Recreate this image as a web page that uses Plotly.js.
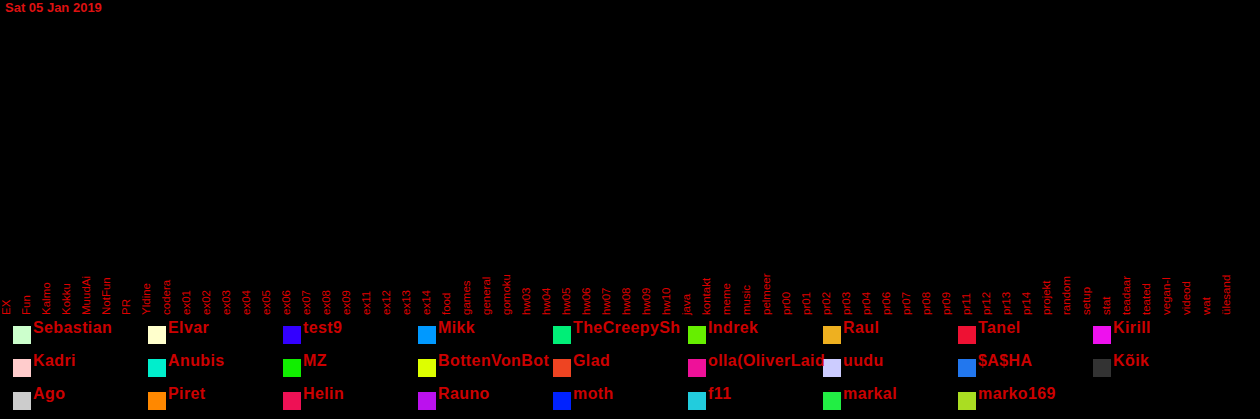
<!DOCTYPE html>
<html>
<head>
<meta charset="utf-8">
<script src="https://cdn.plot.ly/plotly-3.0.1.min.js"></script>
<style>
html,body{margin:0;padding:0;background:#000;}
#chart{width:1260px;height:419px;}
.annotation-text{letter-spacing:0.4px;}
</style>
</head>
<body>
<div id="chart"></div>
<script>
// Channels (x categories, labels as shown, truncated in the source)
const channels = ["EX","Fun","Kalmo","Kokku","MuudAi","NotFun","PR","Yldine","codera",
  "ex01","ex02","ex03","ex04","ex05","ex06","ex07","ex08","ex09","ex11","ex12","ex13","ex14",
  "food","games","general","gomoku","hw03","hw04","hw05","hw06","hw07","hw08","hw09","hw10",
  "java","kontakt","meme","music","pelmeer","pr00","pr01","pr02","pr03","pr04","pr06","pr07",
  "pr08","pr09","pr11","pr12","pr13","pr14","projekt","random","setup","stat","teadaar",
  "teated","vegan-l","videod","wat","ülesand"];

// Users (series names as shown in legend)
const users = ["Sebastian","Elvar","test9","Mikk","TheCreepySh","Indrek","Raul","Tanel","Kirill",
  "Kadri","Anubis","MZ","BottenVonBot","Glad","olla(OliverLaid","uudu","$A$HA","Kõik",
  "Ago","Piret","Helin","Rauno","moth","f11","markal","marko169"];

const userColors = ["#ccffcc","#ffffcc","#3300ff","#0099ff","#00ee77","#66ee00","#eeb020","#ee1133","#ee11ee",
  "#ffcccc","#00eecc","#11ee00","#ddff00","#ee4422","#ee1199","#ccccff","#2277ee","#333333",
  "#cccccc","#ff8800","#ee1155","#bb11ee","#0022ff","#22ccdd","#22ee44","#aadd22"];

// Message counts on Sat 05 Jan 2019: nothing was posted in any channel
const messagesThatDay = [0,0,0,0,0,0,0,0,0,0,0,0,0,0,0,0,0,0,0,0,0,0,0,0,0,0,0,0,0,0,0,
  0,0,0,0,0,0,0,0,0,0,0,0,0,0,0,0,0,0,0,0,0,0,0,0,0,0,0,0,0,0,0];

const titleText = "Sat 05 Jan 2019";

const W = 1260, H = 419;
const M = {l:0, r:20, t:20, b:104};
const plotW = W - M.l - M.r, plotH = H - M.t - M.b, plotBottom = H - M.b;
const px2x = p => (p - M.l) / plotW;
const py2y = p => (plotBottom - p) / plotH;

const red = "#cc0000";

const traces = users.map((u, i) => ({
  type: "bar", name: u, x: channels, y: messagesThatDay,
  marker: {color: userColors[i]}, showlegend: false, hoverinfo: "skip"
}));

const shapes = [], annotations = [];
users.forEach((u, i) => {
  const row = Math.floor(i / 9), col = i % 9;
  const sx = 13 + 135 * col, sy = 326 + 33 * row;
  shapes.push({type:"rect", xref:"paper", yref:"paper",
    x0: px2x(sx), x1: px2x(sx + 18), y0: py2y(sy + 18), y1: py2y(sy),
    fillcolor: userColors[i], line:{width:0}});
  annotations.push({xref:"paper", yref:"paper", x: px2x(sx + 18), y: py2y(sy + 1),
    xanchor:"left", yanchor:"middle", showarrow:false, text: u,
    font:{family:"Liberation Sans, Arial, sans-serif", size:16, color:red, weight:"bold"}});
});

const layout = {
  width: W, height: H,
  margin: M,
  paper_bgcolor: "#000", plot_bgcolor: "#000",
  barmode: "stack",
  showlegend: false,
  title: {text: titleText, xref:"container", yref:"container", x: 5/W, xanchor:"left",
    y: 1 - 7/H, yanchor:"middle",
    font:{family:"Liberation Sans, Arial, sans-serif", size:13, color:"#dd1111", weight:"bold"}},
  xaxis: {type:"category", range:[-0.3, 61.7], tickangle:-90, showgrid:false, zeroline:false,
    showline:false, ticks:"", automargin:false, side:"top", anchor:"free", position:0,
    tickfont:{family:"Liberation Sans, Arial, sans-serif", size:11.5, color:"#dd0000"}},
  yaxis: {visible:false, range:[0,1], showgrid:false, zeroline:false},
  shapes: shapes, annotations: annotations
};

Plotly.newPlot("chart", traces, layout, {displayModeBar:false, staticPlot:true});
</script>
</body>
</html>
